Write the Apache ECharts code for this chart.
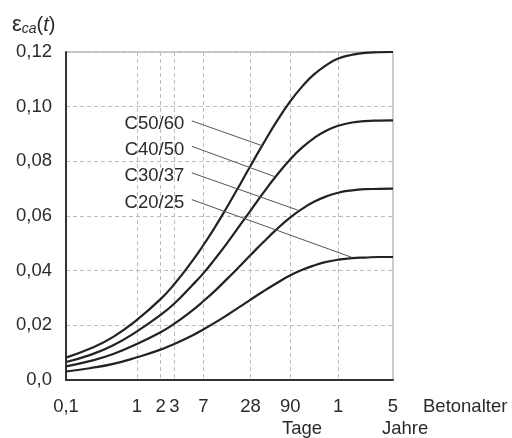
<!DOCTYPE html>
<html><head><meta charset="utf-8">
<script src="https://cdn.jsdelivr.net/npm/echarts@6/dist/echarts.min.js"></script>
<style>html,body{margin:0;padding:0;background:#fff}#c{width:512px;height:438px}</style>
</head><body><div id="c"></div>
<script>
// Concrete age in days (log axis)
const ageDays = [0.125, 0.25, 0.5, 1, 2, 3, 5, 7, 10, 14, 21, 28, 40, 60, 90, 130, 180, 250, 365, 550, 800, 1200, 1825];
const c5060 = [0.0082, 0.0114, 0.0158, 0.0220, 0.0296, 0.0351, 0.0433, 0.0493, 0.0562, 0.0632, 0.0720, 0.0784, 0.0861, 0.0945, 0.1020, 0.1077, 0.1118, 0.1149, 0.1176, 0.1190, 0.1197, 0.1199, 0.1200];
const c4050 = [0.0066, 0.0091, 0.0127, 0.0178, 0.0238, 0.0280, 0.0345, 0.0390, 0.0445, 0.0500, 0.0570, 0.0620, 0.0682, 0.0748, 0.0808, 0.0853, 0.0885, 0.0910, 0.0930, 0.0942, 0.0947, 0.0949, 0.0950];
const c3037 = [0.0050, 0.0069, 0.0095, 0.0132, 0.0175, 0.0206, 0.0253, 0.0288, 0.0328, 0.0369, 0.0420, 0.0457, 0.0502, 0.0551, 0.0595, 0.0628, 0.0652, 0.0670, 0.0685, 0.0694, 0.0698, 0.0699, 0.0700];
const c2025 = [0.0031, 0.0043, 0.0059, 0.0083, 0.0111, 0.0132, 0.0162, 0.0185, 0.0211, 0.0237, 0.0270, 0.0294, 0.0323, 0.0354, 0.0383, 0.0404, 0.0419, 0.0431, 0.0440, 0.0446, 0.0448, 0.0450, 0.0450];
const seriesNames = ['C50/60', 'C40/50', 'C30/37', 'C20/25'];
const seriesValues = [c5060, c4050, c3037, c2025];
// x tick labels
const tickDays = [0.125, 1, 2, 3, 7, 28, 90, 365, 1825];
const tickLabels = ['0,1', '1', '2', '3', '7', '28', '90', '1', '5'];
const gridDays = [1, 2, 3, 7, 28, 90, 365];
// leader lines for the class labels [age, value]
const leaderStart = [[5, 0.0948], [5, 0.0855], [5, 0.0758], [5, 0.0660]];
const leaderEnd = [[39.5, 0.0857], [57, 0.0744], [111, 0.0622], [543, 0.0449]];

const FONT = '"Liberation Sans", Arial, sans-serif';
const TXT = '#2b2b2b';

const chart = echarts.init(document.getElementById('c'), null, {renderer: 'canvas'});

function xLabel(v) {
  let best = 0;
  for (let i = 1; i < tickDays.length; i++) {
    if (Math.abs(Math.log(tickDays[i]) - Math.log(v)) < Math.abs(Math.log(tickDays[best]) - Math.log(v))) best = i;
  }
  return tickLabels[best];
}

const series = seriesNames.map((name, k) => ({
  name: name,
  type: 'line',
  data: ageDays.map((d, i) => [d, seriesValues[k][i]]),
  showSymbol: false,
  smooth: 0.5,
  lineStyle: {color: '#222', width: 2.2},
  z: 3,
  markLine: {
    silent: true,
    symbol: ['none', 'none'],
    lineStyle: {color: '#555', width: 1, type: 'solid'},
    label: {
      show: true, position: 'start', distance: 8,
      formatter: '{n|' + name + '}',
      rich: {n: {color: TXT, fontSize: 18.5, fontFamily: FONT, padding: [12, 0, 0, 0]}}
    },
    emphasis: {disabled: true},
    data: [[{coord: leaderStart[k]}, {coord: leaderEnd[k]}]]
  }
}));

chart.setOption({
  animation: false,
  backgroundColor: '#fff',
  title: {
    left: 7, top: 9,
    text: '{e|ε}{s|ca}{p|(}{t|t}{p|)}',
    textStyle: {
      fontWeight: 'normal',
      rich: {
        e: {fontSize: 22, fontFamily: FONT, fontWeight: 'normal', color: TXT},
        s: {fontSize: 14, fontFamily: FONT, fontStyle: 'italic', fontWeight: 'normal', color: TXT, padding: [8, 0, 0, 0]},
        p: {fontSize: 20, fontFamily: FONT, fontWeight: 'normal', color: TXT},
        t: {fontSize: 20, fontFamily: FONT, fontStyle: 'italic', fontWeight: 'normal', color: TXT}
      }
    }
  },
  grid: {left: 66, right: 119, top: 52, bottom: 58, show: true, borderColor: '#999', borderWidth: 1, backgroundColor: 'transparent'},
  xAxis: {
    type: 'log', logBase: 10, min: 0.125, max: 1825,
    axisLine: {show: true, lineStyle: {color: '#333', width: 2}},
    axisTick: {show: false, customValues: gridDays},
    axisLabel: {customValues: tickDays, formatter: xLabel, color: TXT, fontSize: 18.5, fontFamily: FONT, margin: 17, hideOverlap: false},
    splitLine: {show: true, lineStyle: {color: '#bdbdbd', width: 1, type: [4, 3]}},
    minorTick: {show: false}, minorSplitLine: {show: false}
  },
  yAxis: {
    type: 'value', min: 0, max: 0.12, interval: 0.02,
    axisLine: {show: true, lineStyle: {color: '#333', width: 2}},
    axisTick: {show: false},
    axisLabel: {color: TXT, fontSize: 18.5, fontFamily: FONT, margin: 14,
      formatter: v => v === 0 ? '0,0' : v.toFixed(2).replace('.', ',')},
    splitLine: {show: true, lineStyle: {color: '#bdbdbd', width: 1, type: [4, 3]}}
  },
  graphic: [
    {type: 'text', left: 423, top: 397, style: {text: 'Betonalter', fill: TXT, font: '18.5px ' + FONT}},
    {type: 'text', left: 282, top: 419, style: {text: 'Tage', fill: TXT, font: '18.5px ' + FONT}},
    {type: 'text', left: 382, top: 419, style: {text: 'Jahre', fill: TXT, font: '18.5px ' + FONT}}
  ],
  series: series
});
</script></body></html>
